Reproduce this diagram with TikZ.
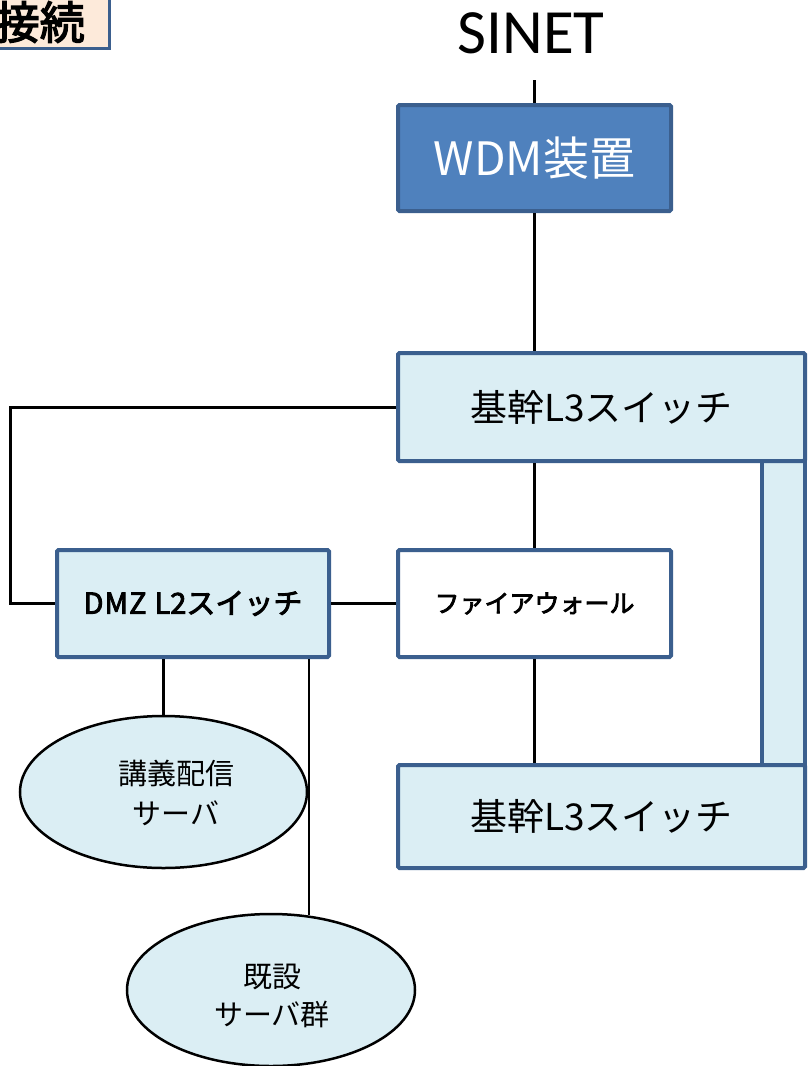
\documentclass[tikz,border=0pt]{standalone}
\usepackage{fontspec}
\newfontfamily\jp{Noto Sans CJK JP}
\newfontfamily\jpb[FakeBold=3]{Noto Sans CJK JP}
\newfontfamily\carlito{Carlito}
\usetikzlibrary{shapes.geometric}
\definecolor{bord}{HTML}{3B5F8E}
\definecolor{lb}{HTML}{DBEEF4}
\definecolor{wdmfill}{HTML}{4F81BD}
\definecolor{peach}{HTML}{FDEADA}
\begin{document}
\begin{tikzpicture}[x=1pt,y=-1pt,
  box/.style={draw=bord,line width=4pt,rounded corners=1.5pt,fill=lb,inner sep=0pt},
  conn/.style={line width=3pt,black},
  thinconn/.style={line width=2.5pt,black},
  srv/.style={ellipse,draw=black,line width=2.5pt,fill=lb,inner sep=0pt}]
\useasboundingbox (0,0) rectangle (807,1066);
\clip (0,0) rectangle (807,1066);
% partial label at top left (cut off by the picture edge, as in the reference)
\node[draw=bord,line width=3pt,fill=peach,minimum width=200,minimum height=90,anchor=south east,inner sep=0pt] (lbl) at (111,50) {};
\node[font=\jpb\fontsize{45}{45}\selectfont,anchor=east,inner sep=0pt] (lbltxt) at (85,22) {接続};
% SINET
\node[font=\carlito\fontsize{63}{63}\selectfont] (sinet) at (531,33) {SINET};
\coordinate (s) at (534,80);
% right vertical link box
\filldraw[fill=lb,draw=bord,line width=4pt] (762,455) rectangle (805,770);
% boxes
\node[box,fill=wdmfill,minimum width=273,minimum height=106,text=white,font=\jp\fontsize{46}{46}\selectfont] (wdm) at (534.5,158) {WDM装置};
\node[box,minimum width=407,minimum height=108,font=\jp\fontsize{37}{37}\selectfont] (l3a) at (601.5,407) {基幹L3スイッチ};
\node[box,fill=white,minimum width=273,minimum height=107,font=\jpb\fontsize{25}{25}\selectfont] (fw) at (534.5,603.5) {ファイアウォール};
\node[box,minimum width=272,minimum height=107,font=\jpb\fontsize{29}{29}\selectfont] (dmz) at (193,603.5) {D\kern1ptM\kern1ptZ\hspace{8pt}L2スイッチ};
\node[box,minimum width=407,minimum height=103,font=\jp\fontsize{37}{37}\selectfont] (l3b) at (601.5,816.5) {基幹L3スイッチ};
% servers
\node[srv,minimum width=287,minimum height=152] (e1) at (163.5,792) {};
\node[align=center,font=\jp\fontsize{29}{40}\selectfont] (e1t) at (176,793) {講義配信\\サーバ};
\node[srv,minimum width=288,minimum height=152] (e2) at (271,990) {};
\node[align=center,font=\jp\fontsize{29}{38}\selectfont] (e2t) at (272,996) {既設\\サーバ群};
% connectors
\coordinate (lc) at (10,500);
\draw[conn] (s) -- (s |- wdm.north);
\draw[conn] (wdm.south) -- (wdm.south |- l3a.north);
\draw[conn] (l3a.west) -| (lc) |- (dmz.west);
\draw[conn] (fw.north |- l3a.south) -- (fw.north);
\draw[conn] (dmz.east) -- (fw.west);
\draw[conn] (fw.south) -- (fw.south |- l3b.north);
\draw[thinconn] (e1.north |- dmz.south) -- (e1.north);
\draw[thinconn] (e2.63 |- dmz.south) -- (e2.63);
\end{tikzpicture}
\end{document}
